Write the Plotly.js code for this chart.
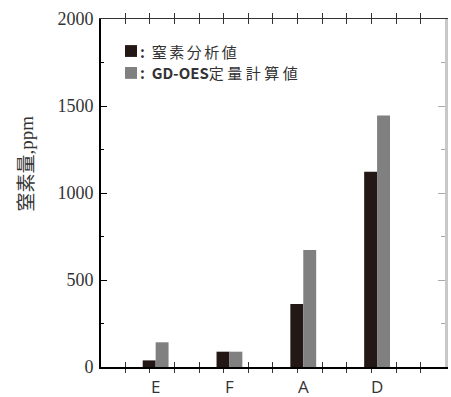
<!DOCTYPE html>
<html>
<head>
<meta charset="utf-8">
<script src="https://cdn.plot.ly/plotly-3.0.1.min.js"></script>
<style>html,body{margin:0;padding:0;background:#fff;}#chart{width:451px;height:397px;}</style>
</head>
<body>
<div id="chart"></div>
<script>
const categories = ['E', 'F', 'A', 'D'];
const seriesNames = ['窒素分析値', 'GD-OES定量計算値'];
const nitrogenAnalysis = [38, 88, 362, 1122];
const gdoesCalculated = [142, 88, 672, 1446];
const yTitle = '窒素量,ppm';

const colors = ['#231816', '#808080'];

const traces = [
  // empty traces so the frame axes (top/bottom minor ticks, right axis) get drawn
  {type: 'scatter', x: [], y: [], xaxis: 'x', yaxis: 'y', showlegend: false, hoverinfo: 'skip'},
  {type: 'scatter', x: [], y: [], xaxis: 'x', yaxis: 'y2', showlegend: false, hoverinfo: 'skip'},
  {type: 'bar', name: seriesNames[0], x: categories, y: nitrogenAnalysis,
   marker: {color: colors[0], line: {width: 0}}, xaxis: 'x2', yaxis: 'y', showlegend: false},
  {type: 'bar', name: seriesNames[1], x: categories, y: gdoesCalculated,
   marker: {color: colors[1], line: {width: 0}}, xaxis: 'x2', yaxis: 'y', showlegend: false}
];

const xr = [-0.74, 3.92];
const serif = 'Liberation Serif, Noto Sans CJK JP, serif';
const sans = 'Open Sans, Noto Sans CJK JP, sans-serif';
const cjk = 'Noto Sans CJK JP, Open Sans, sans-serif';
const sp = (s, px) => '<span style="letter-spacing:' + px + 'px">' + s + '</span>';

const layout = {
  width: 451, height: 397,
  margin: {l: 101, r: 6, t: 19, b: 30},
  paper_bgcolor: '#fff', plot_bgcolor: '#fff',
  barmode: 'group', bargap: 0.65, bargroupgap: 0,
  showlegend: false,
  xaxis: {
    type: 'linear', range: xr, anchor: 'y',
    tickmode: 'linear', tick0: -0.077, dtick: 1/3,
    ticks: 'inside', ticklen: 5, tickwidth: 1, tickcolor: '#333',
    showticklabels: false, showgrid: false, zeroline: false,
    showline: true, linecolor: '#333', linewidth: 1, mirror: 'allticks',
    layer: 'below traces'
  },
  xaxis2: {
    type: 'category', range: xr, overlaying: 'x', anchor: 'y', side: 'bottom',
    ticks: '', showgrid: false, zeroline: false,
    showline: true, linecolor: '#000', linewidth: 2,
    tickfont: {family: sans, size: 17, color: '#333'},
    ticklabelstandoff: 4
  },
  yaxis: {
    range: [0, 2000], tickmode: 'linear', tick0: 0, dtick: 500,
    ticks: 'inside', ticklen: 6, tickwidth: 1, tickcolor: '#000',
    minor: {dtick: 250, ticks: 'inside', ticklen: 3, tickwidth: 1, tickcolor: '#000', showgrid: false},
    showgrid: false, zeroline: false,
    showline: true, linecolor: '#000', linewidth: 2,
    tickfont: {family: serif, size: 18, color: '#333'},
    ticklabelstandoff: 2
  },
  yaxis2: {
    range: [0, 2000], overlaying: 'y', anchor: 'x', side: 'right',
    tickmode: 'linear', tick0: 0, dtick: 500,
    ticks: 'inside', ticklen: 7, tickwidth: 1, tickcolor: '#aaa',
    minor: {dtick: 250, ticks: 'inside', ticklen: 4, tickwidth: 1, tickcolor: '#aaa', showgrid: false},
    showticklabels: false, showgrid: false, zeroline: false,
    showline: true, linecolor: '#c8c8c8', linewidth: 3
  },
  shapes: [
    {type: 'rect', xref: 'paper', yref: 'paper', x0: 0.0698, x1: 0.1047, y0: 0.891, y1: 0.925,
     fillcolor: colors[0], line: {width: 0}},
    {type: 'rect', xref: 'paper', yref: 'paper', x0: 0.0698, x1: 0.1047, y0: 0.828, y1: 0.862,
     fillcolor: colors[1], line: {width: 0}}
  ],
  annotations: [
    {xref: 'paper', yref: 'paper', x: -0.218, y: 0.585, xanchor: 'center', yanchor: 'middle',
     showarrow: false, textangle: -90, text: yTitle,
     font: {family: serif, size: 19, color: '#333'}},
    {xref: 'paper', yref: 'paper', x: 0.108, y: 0.908, xanchor: 'left', yanchor: 'middle',
     showarrow: false, text: '<b>:</b>  ' + sp(seriesNames[0], 2.5),
     font: {family: cjk, size: 15, color: '#333'}},
    {xref: 'paper', yref: 'paper', x: 0.108, y: 0.845, xanchor: 'left', yanchor: 'middle',
     showarrow: false,
     text: '<b>:</b>  <b>' + seriesNames[1].slice(0, 6) + '</b>' + sp(seriesNames[1].slice(6), 3.5),
     font: {family: cjk, size: 15, color: '#333'}}
  ]
};

Plotly.newPlot('chart', traces, layout, {displayModeBar: false, staticPlot: true});
</script>
</body>
</html>
